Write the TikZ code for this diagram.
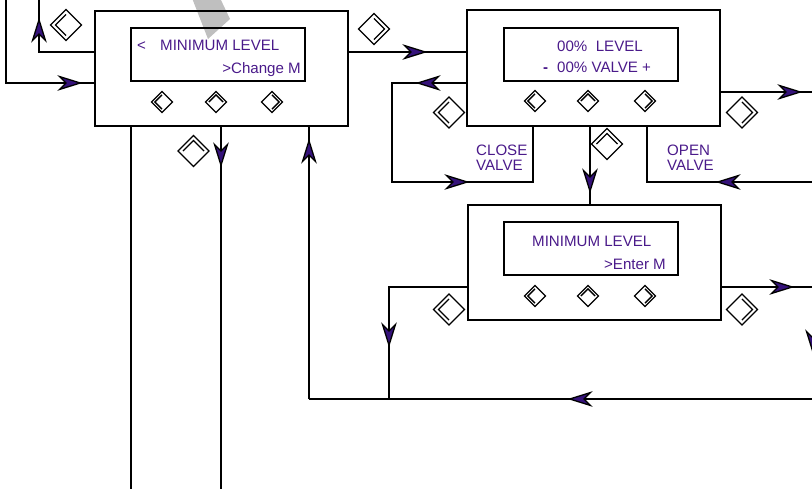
\documentclass[tikz,border=0pt]{standalone}
\usepackage{fontspec}
\setmainfont{Liberation Sans}
\usetikzlibrary{arrows.meta}
\definecolor{inkp}{HTML}{4A1A8A}
\definecolor{headp}{HTML}{35127A}
\tikzset{
  x=1pt,y=-1pt,
  wire/.style={draw=black,line width=1.5pt,line cap=butt,line join=miter},
  arr/.style={wire,shorten >=-2.5pt,-{Stealth[length=25pt,width=15.5pt,inset=7.5pt,fill=headp,line width=1.3pt]}},
  panel/.style={draw=black,line width=1.6pt,inner sep=0pt,outer sep=0pt},
  lcdbox/.style={panel},
  lab/.style={text=inkp,font=\fontsize{15.1}{15.1}\selectfont,inner sep=0pt,anchor=base west},
  dia/.style={draw=black,line width=1.3pt,line join=miter},
}
% \btn{x}{y}{radius}{rotation}: diamond with inner chevron, rotation 0 = chevron on the left
\newcommand{\btn}[4]{%
  \begin{scope}[shift={(#1,#2)},rotate=#4]
    \draw[dia] (-#3,0) -- (0,-#3) -- (#3,0) -- (0,#3) -- cycle;
    \draw[dia] (0,{-#3*0.68}) -- ({-#3*0.68},0) -- (0,{#3*0.68});
  \end{scope}}
\begin{document}
\begin{tikzpicture}
\useasboundingbox (0,0) rectangle (812,488);
% grey band
\fill[black!25] (192,-2) -- (220,-2) -- (230,19) -- (208,39) -- cycle;
% panels
\node[panel,anchor=north west,minimum width=253pt,minimum height=115pt] (p1) at (95,11) {};
\node[panel,anchor=north west,minimum width=253pt,minimum height=116pt] (p2) at (467,10) {};
\node[panel,anchor=north west,minimum width=253pt,minimum height=115pt] (p3) at (468,205) {};
\node[lcdbox,anchor=north west,minimum width=174pt,minimum height=53pt] (l1) at (131,28) {};
\node[lcdbox,anchor=north west,minimum width=174pt,minimum height=53pt] (l2) at (504,28) {};
\node[lcdbox,anchor=north west,minimum width=174pt,minimum height=53pt] (l3) at (504,222) {};
% texts
\node[lab] (t1a) at (137,50) {<};
\node[lab] (t1b) at (160,50) {MINIMUM LEVEL};
\node[lab,anchor=base east] (t1c) at (301,73) {>Change M};
\node[lab] (t2a) at (557,51) {00\%\ \ LEVEL};
\node[lab] (t2b) at (543,72) {\textbf{-}};
\node[lab] (t2c) at (557,72) {00\% VALVE +};
\node[lab] (t3a) at (532,246) {MINIMUM LEVEL};
\node[lab,anchor=base east] (t3b) at (666,269) {>Enter M};
\node[lab] (t4a) at (476,155) {CLOSE};
\node[lab] (t4b) at (476,170) {VALVE};
\node[lab] (t5a) at (667,155) {OPEN};
\node[lab] (t5b) at (667,170) {VALVE};
% small keypad diamonds
\btn{162}{102}{10.5}{0}
\btn{216}{102}{10.5}{270}
\btn{272}{102}{10.5}{180}
\btn{535}{101}{10.5}{0}
\btn{588}{101}{10.5}{270}
\btn{645}{101}{10.5}{180}
\btn{535}{296}{10.5}{0}
\btn{588}{296}{10.5}{270}
\btn{645}{296}{10.5}{180}
% large key diamonds
\btn{66}{25}{15.5}{0}
\btn{193.5}{151}{15.5}{270}
\btn{374}{29}{15.5}{180}
\btn{449}{112.5}{15.5}{0}
\btn{742}{112.5}{15.5}{180}
\btn{607}{144}{15.5}{270}
\btn{449}{309.5}{15.5}{0}
\btn{742}{309.5}{15.5}{180}
% free ends and bends
\coordinate (a0) at (39,-2); \coordinate (a1) at (39,52); \coordinate (a2) at (95,52); \coordinate (at) at (39,20);
\coordinate (b0) at (6,-2); \coordinate (b1) at (6,83); \coordinate (b2) at (95,83); \coordinate (bt) at (80,83);
\coordinate (c0) at (131,126); \coordinate (c1) at (131,490);
\coordinate (d0) at (221,126); \coordinate (d1) at (221,490); \coordinate (dt) at (221,165);
\coordinate (e0) at (309,399); \coordinate (e1) at (309,126); \coordinate (et) at (309,141);
\coordinate (f0) at (348,52); \coordinate (f1) at (467,52); \coordinate (ft) at (425,52);
\coordinate (g0) at (467,83); \coordinate (g1) at (392,83); \coordinate (g2) at (392,182); \coordinate (g3) at (533,182); \coordinate (g4) at (533,126); \coordinate (gt) at (418,83); \coordinate (gu) at (467,182);
\coordinate (h0) at (590,126); \coordinate (h1) at (590,205); \coordinate (ht) at (590,191);
\coordinate (i0) at (814,182); \coordinate (i1) at (647,182); \coordinate (i2) at (647,126); \coordinate (it) at (718,182);
\coordinate (j0) at (720,92); \coordinate (j1) at (814,92); \coordinate (jt) at (800,92);
\coordinate (k0) at (468,287); \coordinate (k1) at (389,287); \coordinate (k2) at (389,399); \coordinate (kt) at (389,345);
\coordinate (m0) at (721,287); \coordinate (m1) at (813,287); \coordinate (mt) at (792,287); \coordinate (mu) at (813,352);
\coordinate (n0) at (813,399); \coordinate (nt) at (570,399);
% connector lines
\draw[wire] (a0) -- (a1) -- (a2);
\draw[wire] (b0) -- (b1) -- (b2);
\draw[wire] (c0) -- (c1);
\draw[wire] (d0) -- (d1);
\draw[wire] (e0) -- (e1);
\draw[wire] (f0) -- (f1);
\draw[wire] (g0) -- (g1) -- (g2) -- (g3) -- (g4);
\draw[wire] (h0) -- (h1);
\draw[wire] (i0) -- (i1) -- (i2);
\draw[wire] (j0) -- (j1);
\draw[wire] (k0) -- (k1) -- (k2);
\draw[wire] (m0) -- (m1) -- (n0);
\draw[wire] (n0) -- (e0);
% arrowheads on them
\draw[arr] (a1) -- (at);
\draw[arr] (b1) -- (bt);
\draw[arr] (d0) -- (dt);
\draw[arr] (e0) -- (et);
\draw[arr] (f0) -- (ft);
\draw[arr] (g0) -- (gt);
\draw[arr] (g2) -- (gu);
\draw[arr] (h0) -- (ht);
\draw[arr] (i0) -- (it);
\draw[arr] (j0) -- (jt);
\draw[arr] (k1) -- (kt);
\draw[arr] (m0) -- (mt);
\draw[arr] (m1) -- (mu);
\draw[arr] (n0) -- (nt);
\end{tikzpicture}
\end{document}
